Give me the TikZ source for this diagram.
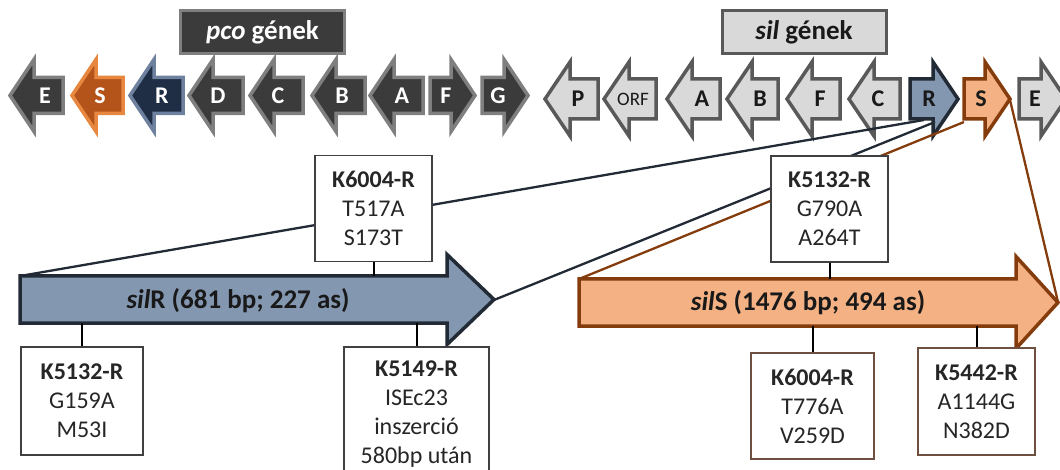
\documentclass[tikz,border=0pt]{standalone}
\usepackage{fontspec}
\setmainfont{Carlito}
\definecolor{pcofill}{HTML}{3B3B3B}
\definecolor{pcoline}{HTML}{7F7F7F}
\definecolor{pcoSfill}{HTML}{B4541A}
\definecolor{pcoSline}{HTML}{E8873F}
\definecolor{pcoRfill}{HTML}{1F2D45}
\definecolor{pcoRline}{HTML}{6E82A0}
\definecolor{silfill}{HTML}{D9D9D9}
\definecolor{silline}{HTML}{595959}
\definecolor{Rfill}{HTML}{8497B0}
\definecolor{Rline}{HTML}{222A35}
\definecolor{Sfill}{HTML}{F4B183}
\definecolor{Sline}{HTML}{843C0C}
\definecolor{boxline}{HTML}{404040}
\definecolor{sboxline}{HTML}{6E5040}
% left-pointing gene arrow: style, tip x, right x, mid y, shaft half, head half, head length
\newcommand\genleft[7]{%
  \draw[#1] (#2,#4) -- ({#2+#7},{#4-#6}) -- ({#2+#7},{#4-#5}) -- (#3,{#4-#5})
    -- (#3,{#4+#5}) -- ({#2+#7},{#4+#5}) -- ({#2+#7},{#4+#6}) -- cycle;}
% right-pointing gene arrow: style, left x, tip x, mid y, shaft half, head half, head length
\newcommand\genright[7]{%
  \draw[#1] (#3,#4) -- ({#3-#7},{#4-#6}) -- ({#3-#7},{#4-#5}) -- (#2,{#4-#5})
    -- (#2,{#4+#5}) -- ({#3-#7},{#4+#5}) -- ({#3-#7},{#4+#6}) -- cycle;}
\begin{document}
\begin{tikzpicture}[x=1pt,y=-1pt,line join=miter,
  pcoarrow/.style={draw=pcoline,fill=pcofill,line width=3.5pt},
  pcoSarrow/.style={draw=pcoSline,fill=pcoSfill,line width=3.5pt},
  pcoRarrow/.style={draw=pcoRline,fill=pcoRfill,line width=3.5pt},
  silarrow/.style={draw=silline,fill=silfill,line width=3.5pt},
  silRarrow/.style={draw=Rline,fill=Rfill,line width=3.5pt},
  silSarrow/.style={draw=Sline,fill=Sfill,line width=3.5pt},
  pcolab/.style={text=white,inner sep=0pt,font=\fontsize{24}{24}\selectfont\bfseries},
  sillab/.style={text=black!90,inner sep=0pt,font=\fontsize{24}{24}\selectfont\bfseries},
  biglab/.style={text=black!90,inner sep=0pt,font=\fontsize{27}{27}\selectfont\bfseries},
  grouplab/.style={line width=3pt,minimum width=164pt,minimum height=43pt,inner sep=0pt,
    font=\fontsize{27}{27}\selectfont\bfseries},
  mutbox/.style={draw=boxline,line width=1.2pt,fill=white,align=center,inner sep=0pt,
    font=\fontsize{24}{29}\selectfont,text=black!85},
  smutbox/.style={mutbox,draw=sboxline},
  tick/.style={line width=2pt,black},
  zoomR/.style={line width=2.3pt,draw=Rline},
  zoomS/.style={line width=2.3pt,draw=Sline}]
\useasboundingbox (0,0) rectangle (1060,470);

% group labels
\node[grouplab,draw=pcoline,fill=pcofill,text=white] (pcolabel) at (262.5,32) {\textit{pco} gének};
\node[grouplab,draw=silline,fill=silfill,text=black!90] (sillabel) at (804,32) {\textit{sil} gének};

% pco operon
\genleft{pcoarrow}{10}{63}{95.5}{18}{36}{24}
\genleft{pcoSarrow}{72}{123}{95.5}{18}{36}{24}
\genleft{pcoRarrow}{130}{183}{95.5}{18}{36}{24}
\genleft{pcoarrow}{189}{243}{95.5}{18}{36}{24}
\genleft{pcoarrow}{250}{303}{95.5}{18}{36}{24}
\genleft{pcoarrow}{312}{365}{95.5}{18}{36}{24}
\genleft{pcoarrow}{370}{423}{95.5}{18}{36}{24}
\genright{pcoarrow}{430}{475}{95.5}{18}{36}{24}
\genright{pcoarrow}{482}{528}{95.5}{18}{36}{24}
\node[pcolab] (pE) at (45,96) {E};
\node[pcolab] (pS) at (100,96) {S};
\node[pcolab] (pR) at (162,96) {R};
\node[pcolab] (pD) at (218,96) {D};
\node[pcolab] (pC) at (278,96) {C};
\node[pcolab] (pB) at (342,96) {B};
\node[pcolab] (pA) at (402,96) {A};
\node[pcolab] (pF) at (446,96) {F};
\node[pcolab] (pG) at (498,96) {G};

% sil operon
\genleft{silarrow}{545}{598}{99}{20}{37}{25}
\genleft{silarrow}{604}{656}{99}{20}{37}{25}
\genleft{silarrow}{667}{720}{99}{20}{37}{25}
\genleft{silarrow}{727}{778}{99}{20}{37}{25}
\genleft{silarrow}{787}{840}{99}{20}{37}{25}
\genleft{silarrow}{849}{900}{99}{20}{37}{25}
\genright{silRarrow}{910}{958}{99}{20}{37}{25}
\genright{silSarrow}{964}{1010}{99}{20}{37}{25}
\genright{silarrow}{1019}{1066}{99}{20}{37}{25}
\node[sillab] (sP) at (578,99) {P};
\node[sillab,font=\fontsize{19}{19}\selectfont] (sORF) at (633,99) {ORF};
\node[sillab] (sA) at (702,99) {A};
\node[sillab] (sB) at (760,99) {B};
\node[sillab] (sF) at (820,99) {F};
\node[sillab] (sC) at (878,99) {C};
\node[sillab] (sR) at (929,99) {R};
\node[sillab] (sS) at (981,99) {S};
\node[sillab] (sE) at (1035,99) {E};

% anchor points on the small and large arrows
\coordinate (smallR-a) at (924,120);
\coordinate (smallR-b) at (935,122);
\coordinate (smallS-a) at (964,122);
\coordinate (smallS-tip) at (1010,100);
\coordinate (bigR-tl) at (20,276);
\coordinate (bigR-tip) at (494,300);
\coordinate (bigR-top) at (0,276);
\coordinate (bigR-bot) at (0,323);
\coordinate (bigS-tl) at (579,279);
\coordinate (bigS-tip) at (1058,302);
\coordinate (bigS-top) at (0,279);
\coordinate (bigS-bot) at (0,326);

% zoom lines
\draw[zoomR] (bigR-tl) -- (smallR-a);
\draw[zoomR] (bigR-tip) -- (smallR-b);
\draw[zoomS] (bigS-tl) -- (smallS-a);
\draw[zoomS] (bigS-tip) -- (smallS-tip);

% enlarged genes
\genright{silRarrow}{20}{494}{299.5}{23.5}{45}{47}
\genright{silSarrow}{579}{1058}{302.5}{23.5}{46}{42}
\node[biglab] (silR) at (238,301) {\textit{sil}R (681 bp; 227 as)};
\node[biglab] (silS) at (808,303) {\textit{sil}S (1476 bp; 494 as)};

% mutations in silR
\node[mutbox,minimum width=117pt,minimum height=106pt] (r6004) at (373.5,208.5)
  {\textbf{K6004-R}\\T517A\\S173T};
\node[mutbox,minimum width=122pt,minimum height=108pt] (r5132) at (82,401)
  {\textbf{K5132-R}\\G159A\\M53I};
\node[mutbox,minimum width=145pt,minimum height=135pt] (r5149) at (416.5,414.5)
  {\textbf{K5149-R}\\ISEc23\\inszerció\\580bp után};
\draw[tick] (r6004.south) -- (r6004.south |- bigR-top);
\draw[tick] (r5132.north) -- (r5132.north |- bigR-bot);
\draw[tick] (r5149.north) -- (r5149.north |- bigR-bot);

% mutations in silS
\node[mutbox,minimum width=117pt,minimum height=106pt] (s5132) at (829.5,209)
  {\textbf{K5132-R}\\G790A\\A264T};
\node[smutbox,minimum width=123pt,minimum height=106pt] (s6004) at (812.5,406)
  {\textbf{K6004-R}\\T776A\\V259D};
\node[smutbox,minimum width=117pt,minimum height=107pt] (s5442) at (976.5,401.5)
  {\textbf{K5442-R}\\A1144G\\N382D};
\draw[tick] (s5132.south) -- (s5132.south |- bigS-top);
\draw[tick] (s6004.north) -- (s6004.north |- bigS-bot);
\draw[tick] (s5442.north) -- (s5442.north |- bigS-bot);
\end{tikzpicture}
\end{document}
